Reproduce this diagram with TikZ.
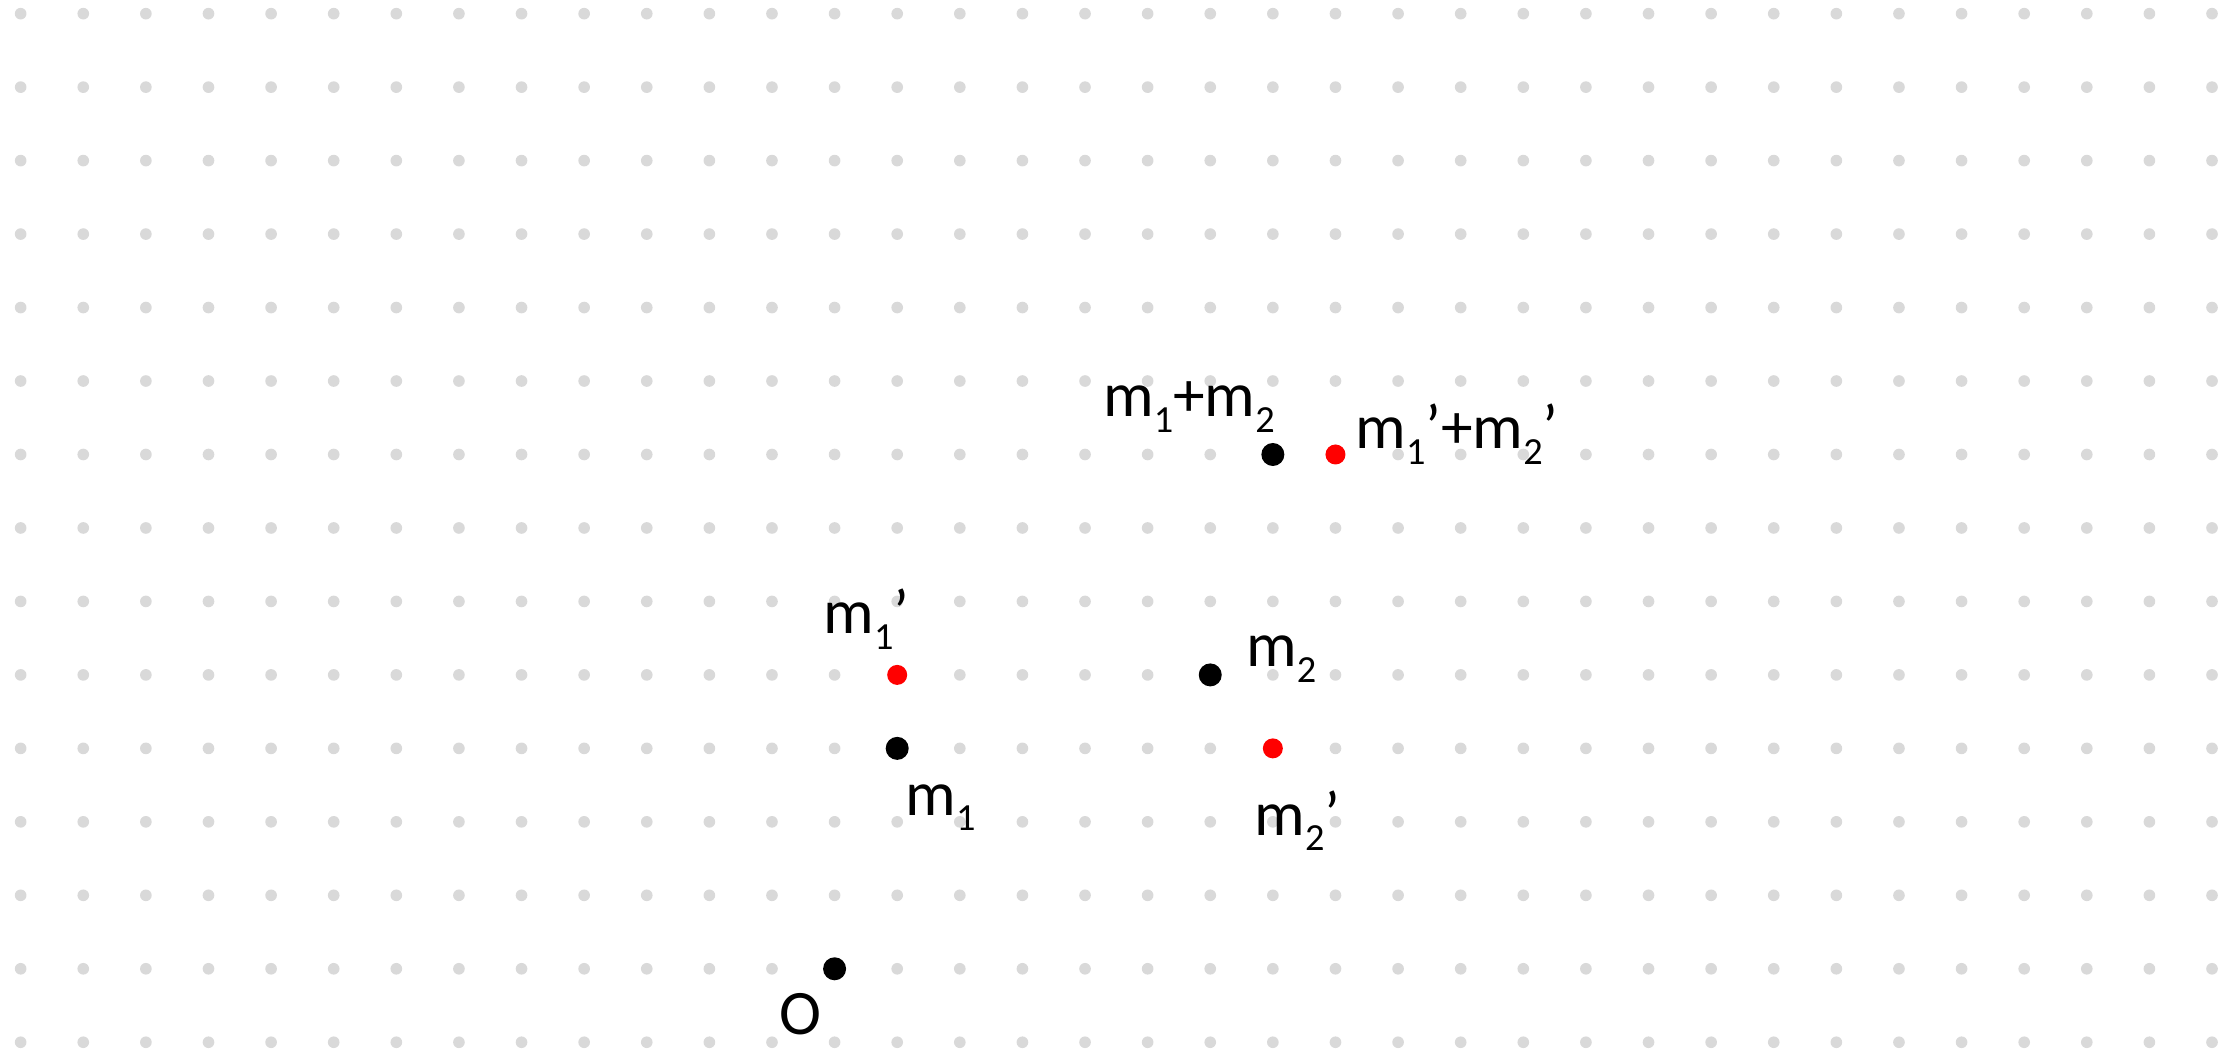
\documentclass[tikz,border=0pt]{standalone}
\usepackage{fontspec}
\setmainfont{Carlito}
\usepackage{tikz}
\colorlet{gridgray}{black!15}
\definecolor{ptred}{RGB}{255,0,0}
\newcommand{\sbs}[1]{\raisebox{-4.7pt}{\fontsize{11.5}{13}\selectfont #1}}

\begin{document}
\begin{tikzpicture}[x=18.783pt,y=22.041pt,
		bdot/.style={circle,inner sep=0pt,minimum size=6.9pt,fill=black},
		rdot/.style={circle,inner sep=0pt,minimum size=6pt,fill=ptred},
		lbl/.style={inner sep=0pt,anchor=base west,font=\fontsize{19}{23}\selectfont}]
		\useasboundingbox (-250.38pt,-24.66pt) rectangle (419.82pt,290.64pt);
		% dot grid
		\foreach \x in {-13,...,22}
			\foreach \y in {-1,...,13}
				\fill[gridgray] (\x,\y) circle (1.75pt);
		% points
		\node[bdot] (o) at (0,0) {};
		\node[bdot] (m1) at (1,3) {};
		\node[bdot] (m2) at (6,4) {};
		\node[bdot] (s) at (7,7) {};
		\node[rdot] (m1p) at (1,4) {};
		\node[rdot] (m2p) at (7,3) {};
		\node[rdot] (sp) at (8,7) {};
		% labels
		\node[lbl] (lo) at ([xshift=-16.7pt,yshift=-19.7pt]o) {O};
		\node[lbl] (lm1) at ([xshift=2.3pt,yshift=-20pt]m1) {m\sbs{1}};
		\node[lbl] (lm2) at ([xshift=10.6pt,yshift=2.5pt]m2) {m\sbs{2}};
		\node[lbl] (ls) at ([xshift=-51.1pt,yshift=11.3pt]s) {m\sbs{1}+m\sbs{2}};
		\node[lbl] (lm1p) at ([xshift=-22.3pt,yshift=12.3pt]m1p) {m\sbs{1}’};
		\node[lbl] (lm2p) at ([xshift=-5.7pt,yshift=-26pt]m2p) {m\sbs{2}’};
		\node[lbl] (lsp) at ([xshift=5.8pt,yshift=1.7pt]sp) {m\sbs{1}’+m\sbs{2}’};
\end{tikzpicture}
\end{document}
